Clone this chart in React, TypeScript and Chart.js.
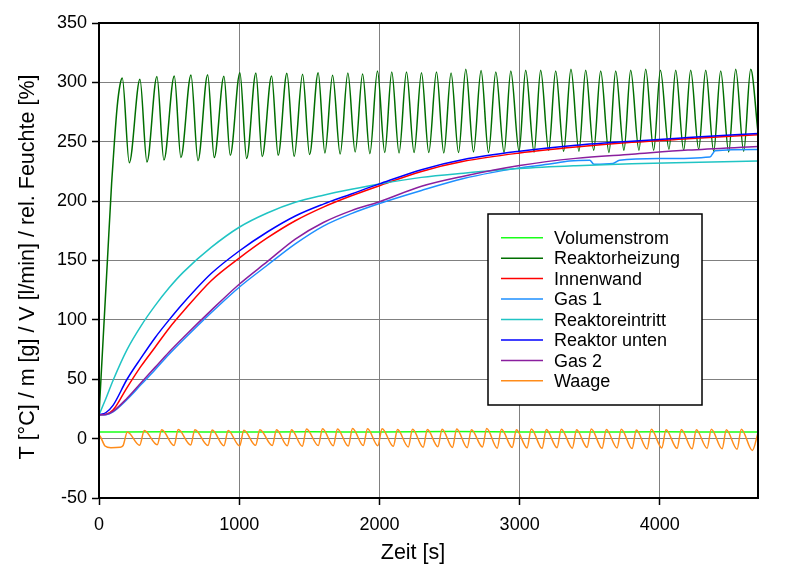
import React, { useEffect, useRef } from 'react';
import { Chart, registerables } from 'chart.js';

Chart.register(...registerables);

// ---------- axes ----------
const X_TICKS = [0, 1000, 2000, 3000, 4000];
const Y_TICKS = [-50, 0, 50, 100, 150, 200, 250, 300, 350];
const X_MIN = 0;
const X_MAX = 4700;
const Y_MIN = -50;
const Y_MAX = 350;

const SERIES_NAMES = [
  'Volumenstrom',
  'Reaktorheizung',
  'Innenwand',
  'Gas 1',
  'Reaktoreintritt',
  'Reaktor unten',
  'Gas 2',
  'Waage',
];
const SERIES_COLORS = [
  '#1aff1a',
  '#006e00',
  '#ff0000',
  '#1e8fff',
  '#20c4c4',
  '#0000ff',
  '#8a1f9e',
  '#ff8c1a',
];

// ---------- Volumenstrom ----------
const volT = [0, 500, 1000, 1500, 2000, 2500, 3000, 3500, 4000, 4500, 4700];
const volV = [5.6, 5.8, 5.5, 5.7, 5.6, 5.9, 5.6, 5.5, 5.7, 5.5, 5.6];

// ---------- Reaktorheizung ----------
const heizStartT = [0, 30, 60, 90, 110, 130, 150];
const heizStartV = [20, 85, 150, 215, 250, 280, 298];
const heizPeakT = [
  166, 292, 413, 537, 656, 775, 891, 1005, 1119, 1231, 1340, 1452, 1563, 1666, 1775, 1880,
  1986, 2088, 2193, 2300, 2407, 2511, 2616, 2725, 2830, 2937, 3043, 3150, 3257, 3366, 3471,
  3578, 3685, 3792, 3899, 4004, 4113, 4220, 4327, 4434, 4541, 4648,
];
const heizPeakV = [
  303.7, 302.6, 304.9, 305.4, 306.2, 306.5, 305.1, 308.2, 307.9, 305.4, 307.6, 306.8, 308.2,
  306, 307.9, 307, 309.6, 308.7, 308.7, 308.2, 308.7, 307.9, 311, 309.9, 308.7, 309.6, 310.2,
  310.2, 309.6, 311, 310.2, 309.6, 309.6, 310.2, 311, 310.2, 310.2, 310.2, 310.2, 309.6, 311,
  311,
];
const heizTroughT = [
  216, 342, 463, 584, 706, 822, 936, 1053, 1164, 1278, 1392, 1502, 1611, 1720, 1827, 1932,
  2038, 2140, 2247, 2352, 2459, 2564, 2671, 2778, 2889, 2996, 3103, 3207, 3314, 3423, 3528,
  3637, 3744, 3851, 3956, 4065, 4170, 4277, 4384, 4491, 4598,
];
const heizTroughV = [
  232.4, 233, 234.6, 236.7, 234.1, 236.7, 238.6, 235.8, 237.5, 238.6, 237.7, 239.2, 240.6,
  239.7, 241.4, 240, 240.9, 240.5, 240.9, 240.9, 240.5, 240.9, 241.4, 240.9, 240.9, 242,
  241.4, 242.8, 242, 242, 242.8, 240.9, 242.8, 242.8, 242.8, 243.6, 242.8, 243.6, 242, 241.4,
  242,
];
const heizEndT = [4700];
const heizEndV = [258];

// ---------- smooth temperature curves ----------
const curveT = [0, 50, 100, 200, 300, 400, 500, 600, 800, 1000, 1200, 1400, 1600, 1800, 2000, 2300, 2600, 3000, 3400, 3800, 4200, 4700];
const innenwandV = [20, 20.5, 24, 43, 61, 77, 93, 107, 133, 152, 169, 183.5, 195, 204.5, 213, 225, 233.5, 240.5, 245.5, 249.5, 252.5, 256];
const eintrittV = [20, 34, 49, 75, 95, 112, 127, 140, 161, 178, 190, 199, 205, 210, 214.5, 220, 223.5, 227.4, 229.8, 231.5, 232.6, 233.8];
const untenV = [20, 22, 28, 50, 68, 85, 100, 114, 139, 158, 174, 187.5, 197.5, 206, 214.5, 226.5, 235, 242, 247, 250.5, 253.5, 257];
const gas2V = [20, 20.3, 23, 34, 47, 60, 73, 85, 108, 130, 149, 168, 182, 192, 199.5, 212.5, 221, 230, 236, 239.5, 243, 246];

const gas1T = [0, 50, 100, 200, 300, 400, 500, 600, 800, 1000, 1200, 1400, 1600, 1800, 2000, 2300, 2600, 2800, 3000, 3200, 3356, 3500, 3530, 3665, 3712, 4003, 4357, 4395, 4700];
const gas1V = [20, 20.2, 22.5, 33, 45.5, 58, 71, 83, 106, 127.5, 146, 164, 179, 189.5, 198, 209, 219, 224, 228, 231, 233.8, 234.4, 231, 231.6, 234.4, 235.8, 237.2, 242.5, 243.5];

// ---------- Waage ----------
const waageStartT = [0, 8, 43, 85, 150, 172];
const waageStartV = [2.6, 2.0, -6.2, -7.6, -7.2, -5.8];
const waagePeakT = [
  202, 323, 447, 565, 684, 807, 921, 1033, 1147, 1266, 1373, 1480, 1594, 1701, 1808, 1915,
  2019, 2129, 2236, 2342, 2447, 2551, 2656, 2765, 2870, 2977, 3083, 3190, 3297, 3406, 3511,
  3618, 3725, 3832, 3939, 4044, 4153, 4260, 4367, 4474, 4581,
];
const waagePeakV = [
  5.6, 6.8, 7.4, 7.6, 7.4, 7.2, 6.8, 7, 7.4, 7.5, 7.4, 8.2, 8.4, 8.2, 8.5, 8.3, 8.4, 7.6, 7.8,
  7.6, 8, 8.2, 7.4, 8.5, 7.8, 7.4, 8.2, 7.6, 8, 7.4, 8.2, 7.6, 7.8, 7.2, 7.8, 7.4, 7.6, 7.4,
  7.8, 7.4, 8,
];
const waageTroughT = [
  290, 415, 535, 654, 777, 891, 1003, 1117, 1236, 1343, 1450, 1564, 1671, 1778, 1885, 1989,
  2099, 2206, 2312, 2417, 2521, 2626, 2735, 2840, 2947, 3053, 3160, 3267, 3376, 3481, 3588,
  3695, 3802, 3909, 4014, 4123, 4230, 4337, 4444, 4551, 4660,
];
const waageTroughV = [
  -5.6, -5.2, -5.8, -5.4, -5.8, -6, -6.2, -5.6, -5.8, -6, -6.4, -5.8, -6, -6.2, -5.8, -6, -6.4,
  -7, -7.2, -6.8, -7.4, -7.6, -7, -8, -7.4, -7.8, -8.2, -7.6, -8, -7.4, -8.2, -7.8, -8.4,
  -8.8, -7.8, -8.2, -8.6, -8, -8.6, -9, -10,
];
const waageEndT = [4700];
const waageEndV = [5];

// ---------- helpers ----------
type Pt = { x: number; y: number };
function pts(...pairs: [number[], number[]][]): Pt[] {
  const out: Pt[] = [];
  for (const [t, v] of pairs) {
    for (let i = 0; i < t.length; i++) out.push({ x: t[i], y: v[i] });
  }
  out.sort((a, b) => a.x - b.x);
  return out;
}

const FONT = "'Liberation Sans', Arial, Helvetica, sans-serif";

const decorPlugin = {
  id: 'decor',
  afterDraw(chart: any) {
    const { ctx, chartArea } = chart;
    const { left, top, right, bottom } = chartArea;
    ctx.save();
    // frame
    ctx.strokeStyle = '#000';
    ctx.lineWidth = 2;
    ctx.strokeRect(left, top, right - left, bottom - top);

    // legend box
    const LX = 488, LY = 214, LW = 214, LH = 191;
    ctx.fillStyle = '#fff';
    ctx.fillRect(LX, LY, LW, LH);
    ctx.lineWidth = 1.5;
    ctx.strokeStyle = '#000';
    ctx.strokeRect(LX, LY, LW, LH);
    ctx.font = `18px ${FONT}`;
    ctx.textAlign = 'left';
    ctx.textBaseline = 'alphabetic';
    chart.data.datasets.forEach((ds: any, i: number) => {
      const y = 237.7 + i * 20.45;
      ctx.strokeStyle = ds.borderColor;
      ctx.lineWidth = 1.5;
      ctx.beginPath();
      ctx.moveTo(501, y);
      ctx.lineTo(543, y);
      ctx.stroke();
      ctx.fillStyle = '#000';
      ctx.fillText(ds.label, 554, y + 6.3);
    });

    // axis titles
    ctx.fillStyle = '#000';
    ctx.font = `21.5px ${FONT}`;
    ctx.textAlign = 'center';
    ctx.textBaseline = 'middle';
    ctx.fillText('Zeit [s]', 413, 553);
    ctx.translate(28, 267);
    ctx.rotate(-Math.PI / 2);
    ctx.fillText('T [°C] / m [g] / V [l/min] / rel. Feuchte [%]', 0, 0);
    ctx.restore();
  },
};

export default function App() {
  const ref = useRef<HTMLCanvasElement>(null);
  useEffect(() => {
    document.body.style.margin = '0';
    const seriesData: Pt[][] = [
      pts([volT, volV]),
      pts([heizStartT, heizStartV], [heizPeakT, heizPeakV], [heizTroughT, heizTroughV], [heizEndT, heizEndV]),
      pts([curveT, innenwandV]),
      pts([gas1T, gas1V]),
      pts([curveT, eintrittV]),
      pts([curveT, untenV]),
      pts([curveT, gas2V]),
      pts([waageStartT, waageStartV], [waagePeakT, waagePeakV], [waageTroughT, waageTroughV], [waageEndT, waageEndV]),
    ];
    const n = SERIES_NAMES.length;
    const chart = new Chart(ref.current as HTMLCanvasElement, {
      type: 'line',
      data: {
        datasets: SERIES_NAMES.map((name, i) => ({
          label: name,
          data: seriesData[i],
          borderColor: SERIES_COLORS[i],
          backgroundColor: SERIES_COLORS[i],
          borderWidth: 1.5,
          pointRadius: 0,
          fill: false,
          cubicInterpolationMode: 'monotone' as const,
          order: n - 1 - i,
        })),
      },
      options: {
        responsive: false,
        animation: false,
        layout: { padding: { left: 0, top: 23, right: 48, bottom: 0 } },
        plugins: {
          legend: { display: false },
          tooltip: { enabled: false },
        },
        scales: {
          x: {
            type: 'linear',
            min: X_MIN,
            max: X_MAX,
            afterBuildTicks: (scale: any) => {
              scale.ticks = X_TICKS.map((v) => ({ value: v }));
            },
            afterFit: (scale: any) => {
              scale.height = 78;
            },
            ticks: {
              color: '#000',
              font: { family: FONT, size: 18 },
              padding: 9,
              maxRotation: 0,
              callback: (v: any) => String(v),
            },
            grid: {
              color: '#808080',
              lineWidth: 1,
              tickColor: '#000',
              tickLength: 7,
              tickWidth: 1.5,
            },
            border: { display: true, color: '#000', width: 2 },
          },
          y: {
            type: 'linear',
            min: Y_MIN,
            max: Y_MAX,
            afterBuildTicks: (scale: any) => {
              scale.ticks = Y_TICKS.map((v) => ({ value: v }));
            },
            afterFit: (scale: any) => {
              scale.width = 99;
            },
            ticks: {
              color: '#000',
              font: { family: FONT, size: 18 },
              padding: 5,
              callback: (v: any) => String(v),
            },
            grid: {
              color: '#808080',
              lineWidth: 1,
              tickColor: '#000',
              tickLength: 7,
              tickWidth: 1.5,
            },
            border: { display: true, color: '#000', width: 2 },
          },
        },
      },
      plugins: [decorPlugin],
    });
    return () => chart.destroy();
  }, []);
  return (
    <div style={{ position: 'absolute', left: 0, top: 0, width: 806, height: 576, background: '#fff' }}>
      <canvas ref={ref} width={806} height={576} style={{ display: 'block', width: 806, height: 576 }} />
    </div>
  );
}
